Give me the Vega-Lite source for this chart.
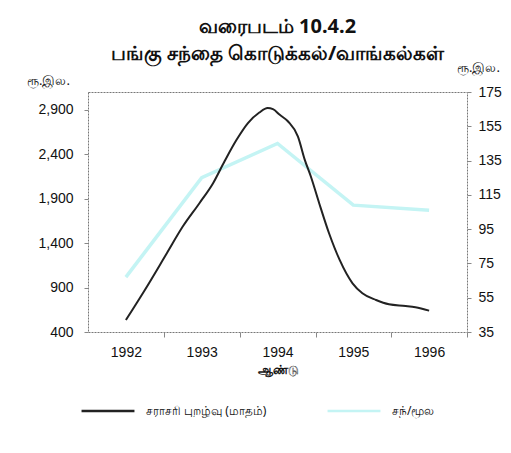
{
  "$schema": "https://vega.github.io/schema/vega-lite/v6.json",
  "width": 379,
  "height": 240,
  "autosize": "none",
  "padding": {"left": 88, "top": 92, "right": 44, "bottom": 121},
  "background": "white",
  "config": {
    "view": {"stroke": "#777", "strokeDash": [2, 1], "strokeWidth": 1},
    "font": "Noto Sans"
  },
  "title": {
    "text": ["வரைபடம்  10.4.2", "பங்கு சந்தை கொடுக்கல்/வாங்கல்கள்"],
    "fontSize": 20,
    "fontWeight": "bold",
    "anchor": "middle",
    "offset": -3,
    "lineHeight": 27,
    "color": "#111",
    "font": "Noto Sans"
  },
  "datasets": {
    "turnover": [
      {"year": 1992.0, "value": 535, "series": "சராசரி புறழ்வு (மாதம்)"},
      {"year": 1992.25, "value": 873, "series": "சராசரி புறழ்வு (மாதம்)"},
      {"year": 1992.54, "value": 1286, "series": "சராசரி புறழ்வு (மாதம்)"},
      {"year": 1992.75, "value": 1586, "series": "சராசரி புறழ்வு (மாதம்)"},
      {"year": 1992.97, "value": 1849, "series": "சராசரி புறழ்வு (மாதம்)"},
      {"year": 1993.15, "value": 2074, "series": "சராசரி புறழ்வு (மாதம்)"},
      {"year": 1993.3, "value": 2318, "series": "சராசரி புறழ்வு (மாதம்)"},
      {"year": 1993.46, "value": 2562, "series": "சராசரி புறழ்வு (மாதம்)"},
      {"year": 1993.61, "value": 2750, "series": "சராசரி புறழ்வு (மாதம்)"},
      {"year": 1993.76, "value": 2869, "series": "சராசரி புறழ்வு (மாதம்)"},
      {"year": 1993.87, "value": 2919, "series": "சராசரி புறழ்வு (மாதம்)"},
      {"year": 1993.94, "value": 2907, "series": "சராசரி புறழ்வு (மாதம்)"},
      {"year": 1994.03, "value": 2843, "series": "சராசரி புறழ்வு (மாதம்)"},
      {"year": 1994.14, "value": 2768, "series": "சராசரி புறழ்வு (மாதம்)"},
      {"year": 1994.27, "value": 2599, "series": "சராசரி புறழ்வு (மாதம்)"},
      {"year": 1994.36, "value": 2337, "series": "சராசரி புறழ்வு (மாதம்)"},
      {"year": 1994.44, "value": 2149, "series": "சராசரி புறழ்வு (மாதம்)"},
      {"year": 1994.55, "value": 1849, "series": "சராசரி புறழ்வு (மாதம்)"},
      {"year": 1994.68, "value": 1511, "series": "சராசரி புறழ்வு (மாதம்)"},
      {"year": 1994.82, "value": 1211, "series": "சராசரி புறழ்வு (மாதம்)"},
      {"year": 1994.99, "value": 948, "series": "சராசரி புறழ்வு (மாதம்)"},
      {"year": 1995.12, "value": 836, "series": "சராசரி புறழ்வு (மாதம்)"},
      {"year": 1995.3, "value": 760, "series": "சராசரி புறழ்வு (மாதம்)"},
      {"year": 1995.47, "value": 712, "series": "சராசரி புறழ்வு (மாதம்)"},
      {"year": 1995.69, "value": 693, "series": "சராசரி புறழ்வு (மாதம்)"},
      {"year": 1995.82, "value": 678, "series": "சராசரி புறழ்வு (மாதம்)"},
      {"year": 1996.0, "value": 640, "series": "சராசரி புறழ்வு (மாதம்)"}
    ],
    "cap": [
      {"year": 1992, "value": 67, "series": "சந்/மூல"},
      {"year": 1993, "value": 125, "series": "சந்/மூல"},
      {"year": 1994, "value": 145, "series": "சந்/மூல"},
      {"year": 1995, "value": 109, "series": "சந்/மூல"},
      {"year": 1996, "value": 106, "series": "சந்/மூல"}
    ]
  },
  "layer": [
    {
      "data": {"name": "cap"},
      "mark": {"type": "line", "strokeWidth": 3.5},
      "encoding": {
        "x": {
          "field": "year",
          "type": "quantitative",
          "scale": {"domain": [1991.5, 1996.5], "nice": false, "zero": false},
          "axis": {
            "values": [1992, 1993, 1994, 1995, 1996],
            "format": "d",
            "tickOffset": 38,
            "labelOffset": -38,
            "tickSize": 5,
            "tickColor": "#888",
            "domain": false,
            "grid": false,
            "labelFont": "Liberation Sans",
            "labelFontSize": 14,
            "labelColor": "#111",
            "labelPadding": 8,
            "title": "ஆண்டு",
            "titleFontSize": 12,
            "titleFontWeight": "bold",
            "titleColor": "#111",
            "titlePadding": 5
          }
        },
        "y": {
          "field": "value",
          "type": "quantitative",
          "scale": {"domain": [35, 175], "nice": false, "zero": false},
          "axis": {
            "orient": "right",
            "values": [35, 55, 75, 95, 115, 135, 155, 175],
            "format": "d",
            "tickSize": 4,
            "tickColor": "#888",
            "domain": false,
            "grid": false,
            "labelFont": "Liberation Sans",
            "labelFontSize": 14,
            "labelColor": "#111",
            "labelPadding": 7,
            "title": "ரூ.இல.",
            "titleAngle": 0,
            "titleX": 11,
            "titleY": -25,
            "titleAlign": "center",
            "titleBaseline": "middle",
            "titleFontSize": 13,
            "titleFontWeight": "normal",
            "titleColor": "#111"
          }
        },
        "color": {
          "field": "series",
          "type": "nominal",
          "scale": {
            "domain": ["சராசரி புறழ்வு (மாதம்)", "சந்/மூல"],
            "range": ["#222222", "#c4f4f4"]
          },
          "legend": {
            "orient": "none",
            "direction": "horizontal",
            "legendX": -8,
            "legendY": 291,
            "title": null,
            "symbolType": "stroke",
            "symbolSize": 2800,
            "symbolStrokeWidth": 2.5,
            "labelFontSize": 12,
            "labelColor": "#111",
            "labelOffset": 10,
            "columnPadding": 55
          }
        }
      }
    },
    {
      "data": {"name": "turnover"},
      "mark": {"type": "line", "strokeWidth": 2, "interpolate": "monotone"},
      "encoding": {
        "x": {"field": "year", "type": "quantitative"},
        "y": {
          "field": "value",
          "type": "quantitative",
          "scale": {"domain": [400, 3100], "nice": false, "zero": false},
          "axis": {
            "orient": "left",
            "values": [400, 900, 1400, 1900, 2400, 2900],
            "format": ",.0f",
            "tickSize": 4,
            "tickColor": "#888",
            "domain": false,
            "grid": false,
            "labelFont": "Liberation Sans",
            "labelFontSize": 14,
            "labelColor": "#111",
            "labelPadding": 11,
            "title": "ரூ.இல.",
            "titleAngle": 0,
            "titleX": -40,
            "titleY": -12,
            "titleAlign": "center",
            "titleBaseline": "middle",
            "titleFontSize": 13,
            "titleFontWeight": "normal",
            "titleColor": "#111"
          }
        },
        "color": {"field": "series", "type": "nominal"}
      }
    }
  ],
  "resolve": {"scale": {"y": "independent"}}
}
